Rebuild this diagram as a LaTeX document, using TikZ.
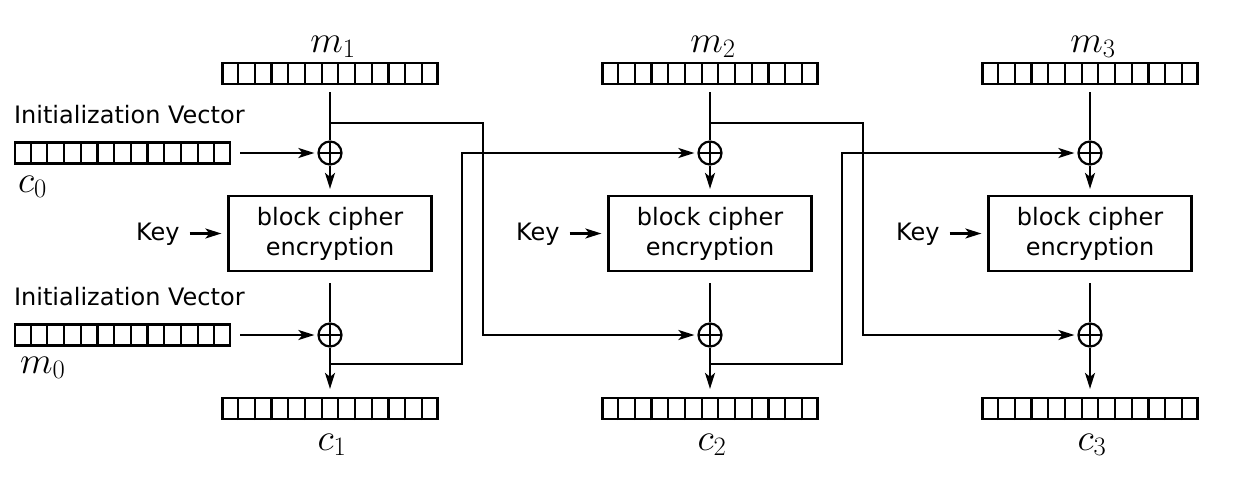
\RequirePackage{fix-cm}
\documentclass[tikz,border=0pt]{standalone}
\usepackage{fontspec}
\setmainfont{DejaVu Sans}
\usetikzlibrary{arrows.meta,calc}
\newcommand\regcells[1]{\foreach \ii in {1,...,12}{\draw ($(#1.south west)!\ii/13!(#1.south east)$) -- ($(#1.north west)!\ii/13!(#1.north east)$);}}
\begin{document}
\begin{tikzpicture}[x=1pt,y=-1pt, line width=2.2pt,
 reg/.style={draw, minimum width=215pt, minimum height=21pt, inner sep=0pt},
 xor/.style={circle, draw, minimum size=23pt, inner sep=0pt,
   path picture={\draw[line width=2.2pt] (path picture bounding box.north)--(path picture bounding box.south)
                 (path picture bounding box.west)--(path picture bounding box.east);}},
 enc/.style={draw, minimum width=203pt, minimum height=75pt, align=center,
   font=\fontsize{24}{30}\selectfont, inner sep=0pt},
 lbl/.style={font=\fontsize{24}{29}\selectfont, inner sep=0pt},
 mlbl/.style={font=\fontsize{38}{42}\selectfont, inner sep=0pt},
 arr/.style={-{Stealth[length=16pt,width=10pt,inset=4pt]}},
]
\useasboundingbox (0,0) rectangle (1256,498);

\foreach \col/\xx in {1/330,2/710,3/1090}{
  \node[reg] (m\col) at (\xx,73.5) {};
  \regcells{m\col}
  \node[mlbl, anchor=base] (lm\col) at (\xx+3,52) {$m_{\col}$};
  \node[xor] (xa\col) at (\xx,153) {};
  \node[enc] (e\col) at (\xx,233.5) {block cipher\\encryption};
  \node[lbl, anchor=base west] (k\col) at (\xx-195,240) {Key};
  \node[xor] (xb\col) at (\xx,335) {};
  \node[reg] (c\col) at (\xx,408.5) {};
  \regcells{c\col}
  \node[mlbl, anchor=base] (lc\col) at (\xx+2,450) {$c_{\col}$};
  \draw[shorten <=7pt] (m\col.south) -- (xa\col.north);
  \draw[arr, shorten >=6pt] (xa\col.south) -- (e\col.north);
  \draw[arr, shorten <=9pt, shorten >=6pt] (k\col.east |- e\col.west) -- (e\col.west);
  \draw[shorten <=11pt] (e\col.south) -- (xb\col.north);
  \draw[arr, shorten >=8pt] (xb\col.south) -- (c\col.north);
}

% Initialization vectors
\node[reg] (iv1) at (122.5,153) {};
\regcells{iv1}
\node[reg] (iv2) at (122.5,335) {};
\regcells{iv2}
\node[lbl, anchor=base west] (ivl1) at (13,123) {Initialization Vector};
\node[lbl, anchor=base west] (ivl2) at (13,305) {Initialization Vector};
\node[mlbl, anchor=base west] (lc0) at (17,192) {$c_0$};
\node[mlbl, anchor=base west] (lm0) at (19,373) {$m_0$};
\draw[arr, shorten <=9pt, shorten >=3pt] (iv1.east) -- (xa1.west);
\draw[arr, shorten <=9pt, shorten >=3pt] (iv2.east) -- (xb1.west);

% feed-forward branches
\foreach \col/\xx/\nn in {1/330/2,2/710/3}{
  \coordinate (bm\col) at (\xx,123);
  \coordinate (bc\col) at (\xx,364);
  \draw[arr, shorten >=3pt] (bm\col) -- ++(153,0) |- (xb\nn.west);
  \draw[arr, shorten >=3pt] (bc\col) -- ++(132,0) |- (xa\nn.west);
}
\end{tikzpicture}
\end{document}
